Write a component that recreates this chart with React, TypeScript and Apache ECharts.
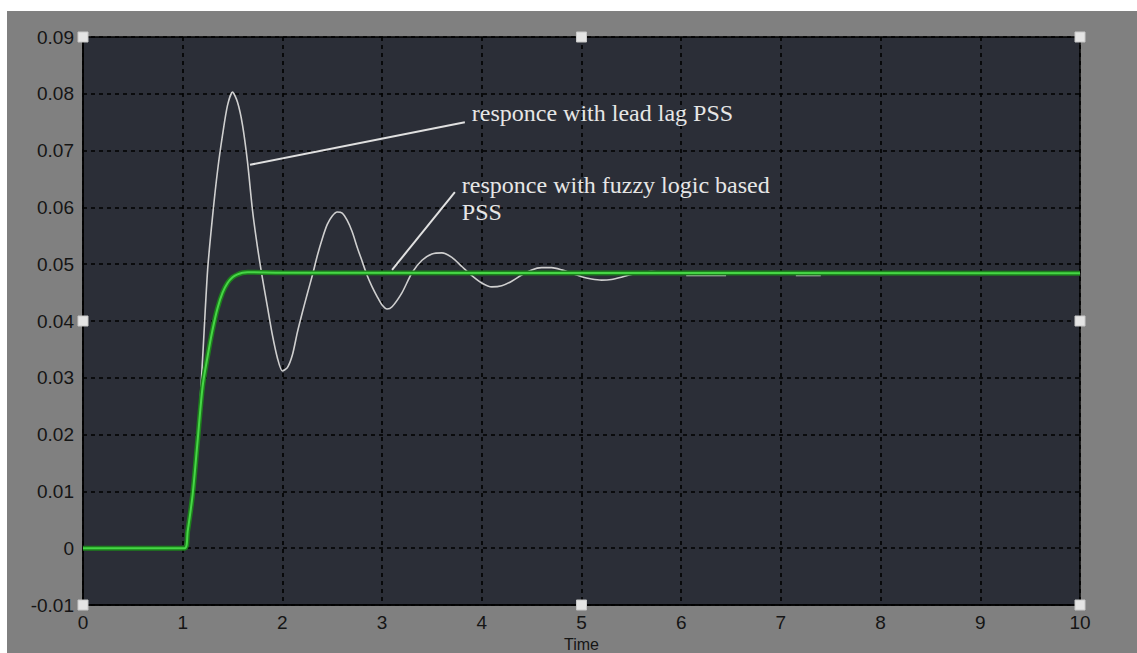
import React, { useEffect, useRef } from "react";
import * as echarts from "echarts";

// Response with lead lag PSS (white trace); null = gap in the trace
const leadTime = [
  0, 1.0, 1.05, 1.1, 1.15, 1.2, 1.25, 1.3, 1.35, 1.4, 1.45, 1.5, 1.55, 1.6, 1.65, 1.7, 1.75, 1.8, 1.85,
  1.9, 1.95, 2.0, 2.05, 2.1, 2.15, 2.2, 2.25, 2.3, 2.35, 2.4, 2.45, 2.5, 2.55, 2.6, 2.65, 2.7, 2.75,
  2.8, 2.85, 2.9, 2.95, 3.0, 3.05, 3.1, 3.2, 3.3, 3.4, 3.5, 3.6, 3.7, 3.8, 3.9, 4.0, 4.1, 4.2, 4.3,
  4.4, 4.5, 4.6, 4.7, 4.8, 4.9, 5.0, 5.1, 5.2, 5.3, 5.4, 5.5, 5.6, 5.7, 5.8, 5.9, 5.98, 6.05, 6.45,
  6.8, 7.15, 7.4,
];
const leadValue = [
  0, 0, 0.003, 0.01, 0.019, 0.0335, 0.049, 0.0585, 0.0665, 0.0728, 0.078, 0.0803, 0.0785, 0.0745,
  0.068, 0.0595, 0.053, 0.0475, 0.0425, 0.0375, 0.0335, 0.0312, 0.0318, 0.034, 0.038, 0.0415, 0.0448,
  0.048, 0.0515, 0.0545, 0.057, 0.0585, 0.0592, 0.059, 0.0577, 0.0557, 0.053, 0.0505, 0.048, 0.046,
  0.0443, 0.0428, 0.0421, 0.0425, 0.045, 0.0485, 0.0507, 0.0518, 0.052, 0.0512, 0.0496, 0.048, 0.0467,
  0.046, 0.0462, 0.047, 0.0481, 0.049, 0.0494, 0.0494, 0.049, 0.0484, 0.0478, 0.0474, 0.0472, 0.0473,
  0.0477, 0.0482, 0.0485, 0.0487, 0.0486, 0.0483, null, 0.048, 0.048, null, 0.048, 0.048,
];

// Response with fuzzy logic based PSS (green trace)
const fuzzyTime = [0, 1.02, 1.05, 1.1, 1.15, 1.2, 1.25, 1.3, 1.35, 1.4, 1.45, 1.5, 1.55, 1.6, 1.65, 2.0, 10];
const fuzzyValue = [
  0, 0, 0.003, 0.0095, 0.019, 0.0285, 0.0338, 0.0385, 0.0423, 0.045, 0.0467, 0.0477, 0.0482, 0.0485,
  0.0486, 0.0485, 0.0484,
];

const xLabel = "Time";
const annotationLead = "responce with lead lag PSS";
const annotationFuzzy = "responce with fuzzy logic based\nPSS";

// annotation anchors in data coordinates: [arrow start, arrow end], text anchor
const leadArrow = [[1.675, 0.0675], [3.83, 0.075]];
const leadTextAt = [3.9, 0.0766];
const fuzzyArrow = [[3.1, 0.049], [3.73, 0.0627]];
const fuzzyTextAt = [3.8, 0.0663];

// selection handles (data coordinates of frame corners/midpoints)
const handleAt = [
  [0, 0.09], [5, 0.09], [10, 0.09], [0, 0.04], [10, 0.04], [0, -0.01], [5, -0.01], [10, -0.01],
];

export default function App() {
  const ref = useRef<HTMLDivElement>(null);

  useEffect(() => {
    const chart = echarts.init(ref.current!, null, { renderer: "svg" });
    const lead = leadTime.map((t, i) => [t, leadValue[i] === null ? "-" : leadValue[i]]);
    const fuzzy = fuzzyTime.map((t, i) => [t, fuzzyValue[i]]);
    const tickFont = "Liberation Sans, Arial, sans-serif";

    chart.setOption({
      animation: false,
      backgroundColor: "#808080",
      grid: {
        left: 76,
        top: 26,
        width: 997,
        height: 568,
        outerBoundsMode: "none",
        containLabel: false,
        show: true,
        backgroundColor: "#2b2e37",
        borderColor: "#000",
        borderWidth: 1.5,
      },
      xAxis: {
        type: "value",
        min: 0,
        max: 10,
        interval: 1,
        name: xLabel,
        nameLocation: "middle",
        nameGap: 30,
        nameTextStyle: { color: "#151515", fontSize: 16, fontFamily: tickFont },
        axisLine: { show: true, onZero: false, lineStyle: { color: "#000", width: 1.5 } },
        axisTick: { show: false },
        axisLabel: { color: "#151515", fontSize: 19, margin: 8, fontFamily: tickFont },
        splitLine: { show: true, lineStyle: { color: "#000", type: [4, 4], width: 1.6 } },
      },
      yAxis: {
        type: "value",
        min: -0.01,
        max: 0.09,
        interval: 0.01,
        axisLine: { show: true, onZero: false, lineStyle: { color: "#000", width: 1.5 } },
        axisTick: { show: false },
        axisLabel: {
          color: "#151515",
          fontSize: 19,
          margin: 9,
          fontFamily: tickFont,
          formatter: (v: number) => {
            const r = Math.round(v * 100) / 100;
            return r === 0 ? "0" : r.toFixed(2);
          },
        },
        splitLine: { show: true, lineStyle: { color: "#000", type: [4, 4], width: 1.6 } },
      },
      series: [
        {
          type: "line",
          data: lead,
          showSymbol: false,
          smooth: 0.25,
          connectNulls: false,
          lineStyle: { color: "#cfcfcf", width: 1.6 },
          z: 3,
        },
        {
          type: "line",
          data: fuzzy,
          showSymbol: false,
          smooth: 0.3,
          lineStyle: { color: "#1d7f1d", width: 5 },
          z: 4,
        },
        {
          type: "line",
          data: fuzzy,
          showSymbol: false,
          smooth: 0.3,
          lineStyle: { color: "#46d646", width: 2 },
          z: 5,
        },
      ],
    });

    const px = (p: number[]) => chart.convertToPixel({ gridIndex: 0 }, p) as number[];
    const textStyle = {
      fill: "#e6e6e6",
      fontSize: 24,
      fontFamily: "Liberation Serif, Times New Roman, serif",
      lineHeight: 27,
    };
    const la0 = px(leadArrow[0]);
    const la1 = px(leadArrow[1]);
    const fa0 = px(fuzzyArrow[0]);
    const fa1 = px(fuzzyArrow[1]);
    const lt = px(leadTextAt);
    const ft = px(fuzzyTextAt);

    const graphic: any[] = [
      {
        type: "line",
        shape: { x1: la0[0], y1: la0[1], x2: la1[0], y2: la1[1] },
        style: { stroke: "#e0e0e0", lineWidth: 2 },
        z: 10,
      },
      {
        type: "line",
        shape: { x1: fa0[0], y1: fa0[1], x2: fa1[0], y2: fa1[1] },
        style: { stroke: "#e0e0e0", lineWidth: 2 },
        z: 10,
      },
      {
        type: "text",
        x: lt[0],
        y: lt[1],
        style: { ...textStyle, text: annotationLead, align: "left", verticalAlign: "middle" },
        z: 10,
      },
      {
        type: "text",
        x: ft[0],
        y: ft[1],
        style: { ...textStyle, text: annotationFuzzy, align: "left", verticalAlign: "top" },
        z: 10,
      },
    ];
    handleAt.forEach((h) => {
      const p = px(h);
      graphic.push({
        type: "rect",
        shape: { x: p[0] - 5, y: p[1] - 5, width: 10, height: 10 },
        style: { fill: "#e4e4e4", stroke: "#c8c8c8", lineWidth: 1 },
        z: 20,
      });
    });
    chart.setOption({ graphic });

    return () => chart.dispose();
  }, []);

  return (
    <div
      style={{
        position: "fixed",
        left: 0,
        top: 0,
        width: 1137,
        height: 653,
        background: "#ffffff",
        overflow: "hidden",
      }}
    >
      <div ref={ref} style={{ position: "absolute", left: 7, top: 11, width: 1130, height: 642 }} />
    </div>
  );
}
